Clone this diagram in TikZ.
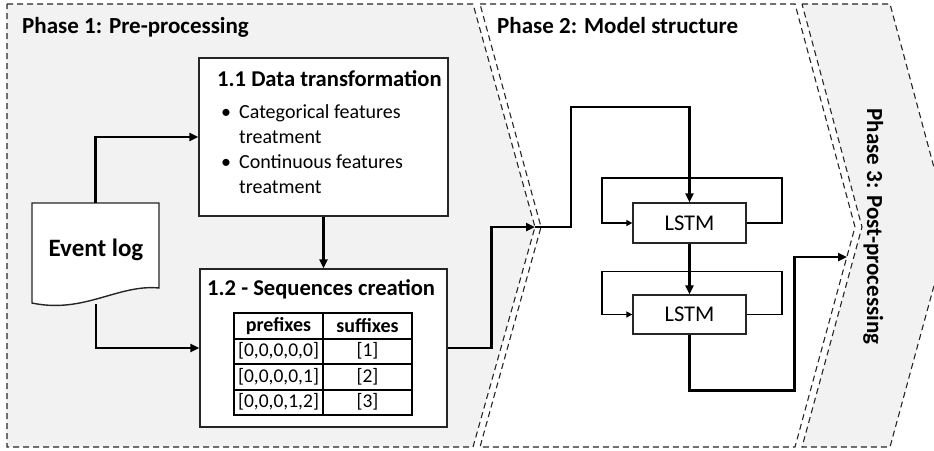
\documentclass[tikz,border=0pt]{standalone}
\usepackage{fontspec}
\setmainfont{Carlito}
\usetikzlibrary{arrows.meta,calc}

\definecolor{phasegray}{HTML}{F2F2F2}
\definecolor{edgegray}{HTML}{262626}

\tikzset{
  phase/.style={draw=edgegray, line width=1.1pt, dash pattern=on 6pt off 4pt},
  phasetitle/.style={anchor=base west, inner sep=0pt, font=\fontsize{23}{27}\selectfont\bfseries},
  boxtitle/.style={anchor=base west, inner sep=0pt, font=\fontsize{22.6}{26}\selectfont\bfseries},
  itemtext/.style={anchor=base west, inner sep=0pt, font=\fontsize{20}{24}\selectfont},
  stagebox/.style={draw=edgegray, line width=1.4pt, fill=white, rectangle, inner sep=0pt},
  cell/.style={draw=black, line width=2pt, rectangle, inner sep=0pt,
    minimum width=89pt, minimum height=25.5pt},
  lstmbox/.style={draw=edgegray, line width=1.3pt, fill=white, rectangle, inner sep=0pt,
    minimum width=113pt, minimum height=40pt, font=\fontsize{22.5}{26}\selectfont},
  flow/.style={line width=2.8pt, -{Triangle[length=9pt,width=8pt]}},
  loop/.style={line width=1.8pt, -{Triangle[length=6pt,width=6pt]}},
}

\begin{document}
\begin{tikzpicture}[x=1pt,y=-1pt]
\useasboundingbox (0,0) rectangle (934,450);
\clip (0,0) rectangle (934,450);

% three chevron-shaped phase panels
\draw[phase, fill=phasegray] (7,4) -- (473,4) -- (535,227) -- (473,447) -- (7,447) -- cycle;
\draw[phase, fill=white] (480,4) -- (795,4) -- (855,227) -- (795,447) -- (480,447) -- (541,227) -- cycle;
\draw[phase, fill=phasegray] (802,4) -- (890,4) -- (950,227) -- (890,447) -- (802,447) -- (862,227) -- cycle;

\coordinate (p1tip) at (535,227);
\coordinate (p2edge) at (847,257);

% phase titles
\node[phasetitle] (t1) at (22,33) {Phase 1: Pre-processing};
\node[phasetitle] (t2) at (497,33) {Phase 2: Model structure};
\node[phasetitle, anchor=base, rotate=-90] (t3) at (867,226.5) {Phase 3: Post-processing};

% event log document shape
\node[inner sep=0pt, minimum width=127pt, minimum height=85pt] (evlog) at (95.5,245.5) {};
\draw[draw=edgegray, line width=1.4pt, fill=white]
  (32,203) -- (159,203) -- (159,288)
  .. controls (118,284) and (84,314) .. (32,303) -- cycle;
\node[anchor=base, inner sep=0pt, font=\fontsize{25}{29}\selectfont\bfseries] (evtext) at (96,256) {Event log};
\coordinate (evbot) at (96,304);

% 1.1 data transformation
\node[stagebox, minimum width=249pt, minimum height=158pt] (box11) at (323.5,137) {};
\node[boxtitle] (b11t) at (217,86) {1.1 Data transformation};
\node[itemtext] (b11a) at (221,118) {•};
\node[itemtext] (b11b) at (239,118) {Categorical features};
\node[itemtext] (b11c) at (239,143) {treatment};
\node[itemtext] (b11d) at (221,168) {•};
\node[itemtext] (b11e) at (239,168) {Continuous features};
\node[itemtext] (b11f) at (239,193) {treatment};

% 1.2 sequences creation
\node[stagebox, minimum width=247pt, minimum height=158pt] (box12) at (323.5,348) {};
\node[boxtitle] (b12t) at (207,295) {1.2 - Sequences creation};

% prefix / suffix table
\node[cell, font=\fontsize{20}{24}\selectfont\bfseries] (h1) at (278.5,325.75) {prefixes};
\node[cell, font=\fontsize{20}{24}\selectfont\bfseries] (h2) at (367.5,325.75) {suffixes};
\node[cell, font=\fontsize{19.5}{24}\selectfont] (r1a) at (278.5,351.25) {[0,0,0,0,0]};
\node[cell, font=\fontsize{19.5}{24}\selectfont] (r1b) at (367.5,351.25) {[1]};
\node[cell, font=\fontsize{19.5}{24}\selectfont] (r2a) at (278.5,376.75) {[0,0,0,0,1]};
\node[cell, font=\fontsize{19.5}{24}\selectfont] (r2b) at (367.5,376.75) {[2]};
\node[cell, font=\fontsize{19.5}{24}\selectfont] (r3a) at (278.5,402.25) {[0,0,0,1,2]};
\node[cell, font=\fontsize{19.5}{24}\selectfont] (r3b) at (367.5,402.25) {[3]};

% LSTM layers
\node[lstmbox] (lstm1) at (689.5,223) {LSTM};
\node[lstmbox, minimum height=39pt] (lstm2) at (689.5,314.5) {LSTM};

% pre-processing flow
\draw[flow] (evlog.north) |- (box11.west);
\draw[flow] (evbot) |- (box12.west);
\draw[flow] (box11.south) -- (box12.north);
\draw[flow] (box12.east) -- ++(44,0) |- (p1tip);

% into the model
\draw[flow] (p1tip) -| ++(36,-120) -| (lstm1.north);
\draw[flow] (lstm1.south) -- (lstm2.north);

% recurrent loops
\draw[loop] (lstm1.east) -| ++(35,-45) -| ++(-180,45) -- (lstm1.west);
\draw[loop] (lstm2.east) -| ++(35,-43) -| ++(-180,43) -- (lstm2.west);

% out to post-processing
\draw[flow] (lstm2.south) |- ++(105,56) |- (p2edge);
\end{tikzpicture}
\end{document}
